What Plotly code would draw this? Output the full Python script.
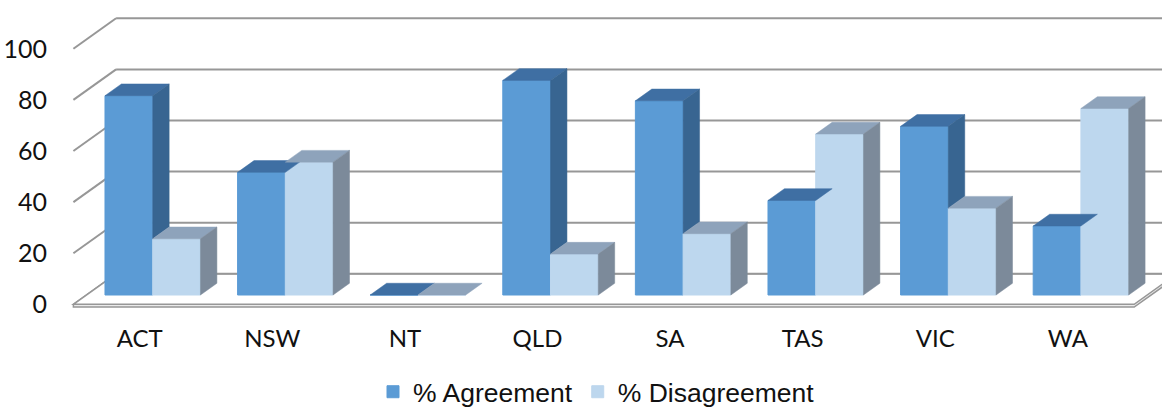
import plotly.graph_objects as go

categories = ["ACT", "NSW", "NT", "QLD", "SA", "TAS", "VIC", "WA"]
agreement = [78, 48, 0, 84, 76, 37, 66, 27]
disagreement = [22, 52, 0, 16, 24, 63, 34, 73]
y_ticks = [0, 20, 40, 60, 80, 100]

# pseudo-3D projection (oblique), in axis units
KX = 0.322     # x shift (category units) for full floor depth
KY = 11.94     # y shift (value units) for full floor depth
D1, D2 = 0.305, 0.69   # bar front / back depth fractions
BAR_W = 0.36

C_AG = "#5B9BD5"; C_AG_TOP = "#3F6FA3"; C_AG_SIDE = "#386591"
C_DI = "#BDD7EE"; C_DI_TOP = "#8EA3BB"; C_DI_SIDE = "#7C8A9A"
GRID = "#979797"

n = len(categories)
b = D1 * KY
dx = (D2 - D1) * KX
dy = (D2 - D1) * KY


def faces(x0s, vals, lows):
    tx, ty, sx, sy = [], [], [], []
    for x0, v, lo in zip(x0s, vals, lows):
        x1 = x0 + BAR_W
        tx += [x0, x1, x1 + dx, x0 + dx, x0, None]
        ty += [b + v, b + v, b + v + dy, b + v + dy, b + v, None]
        if v > lo:
            sx += [x1, x1, x1 + dx, x1 + dx, x1, None]
            sy += [b + lo, b + v, b + v + dy, b + lo + dy, b + lo, None]
    return tx, ty, sx, sy


ag_x0 = [i - BAR_W + D1 * KX for i in range(n)]
di_x0 = [i + D1 * KX for i in range(n)]

fig = go.Figure()
fig.add_trace(go.Bar(x=[x + BAR_W / 2 for x in ag_x0], y=agreement, base=b, width=BAR_W,
                     marker=dict(color=C_AG, line=dict(color=C_AG, width=1)),
                     name="% Agreement", hoverinfo="skip"))
fig.add_trace(go.Bar(x=[x + BAR_W / 2 for x in di_x0], y=disagreement, base=b, width=BAR_W,
                     marker=dict(color=C_DI, line=dict(color=C_DI, width=1)),
                     name="% Disagreement", hoverinfo="skip"))

for x0s, vals, lows, ctop, cside in [
    (ag_x0, agreement, disagreement, C_AG_TOP, C_AG_SIDE),
    (di_x0, disagreement, [0] * n, C_DI_TOP, C_DI_SIDE),
]:
    tx, ty, sx, sy = faces(x0s, vals, lows)
    fig.add_trace(go.Scatter(x=tx, y=ty, fill="toself", fillcolor=ctop, mode="lines",
                             line=dict(color=ctop, width=0.5), showlegend=False, hoverinfo="skip"))
    if sx:
        fig.add_trace(go.Scatter(x=sx, y=sy, fill="toself", fillcolor=cside, mode="lines",
                                 line=dict(color=cside, width=0.5), showlegend=False, hoverinfo="skip"))

shapes = []
xl, xr = -0.5, n - 0.5
# floor slab
th = 1.1
shapes.append(dict(type="path", layer="below", xref="x", yref="y",
                   path=f"M{xl},{-th} L{xr},{-th} L{xr + KX},{KY - th} L{xr + KX},{KY} L{xl + KX},{KY} L{xl},0 Z",
                   fillcolor="#EBEBEB", line=dict(color=GRID, width=1.5)))
shapes.append(dict(type="path", layer="below", xref="x", yref="y",
                   path=f"M{xl},0 L{xr},0 L{xr + KX},{KY} L{xl + KX},{KY} Z",
                   fillcolor="white", line=dict(color=GRID, width=1.5)))
for v in y_ticks:
    if v > 0:
        shapes.append(dict(type="line", layer="below", xref="x", yref="y",
                           x0=xl, y0=v, x1=xl + KX, y1=v + KY, line=dict(color=GRID, width=2)))
    shapes.append(dict(type="line", layer="below", xref="x", yref="y",
                       x0=xl + KX, y0=v + KY, x1=xr + KX + 1, y1=v + KY, line=dict(color=GRID, width=2)))

W, H = 1162, 409
L, B = 56, 93
PXC, PXV = 132.6, 2.555
X0PIX, Y0PIX = 139.7, 304.3

fig.update_layout(
    width=W, height=H, autosize=False,
    margin=dict(l=L, r=0, t=0, b=B, autoexpand=False),
    plot_bgcolor="white", paper_bgcolor="white",
    barmode="overlay", shapes=shapes,
    xaxis=dict(range=[(L - X0PIX) / PXC, (W - X0PIX) / PXC], tickvals=list(range(n)),
               ticktext=categories, showgrid=False, zeroline=False, showline=False,
               ticks="outside", ticklen=1, tickcolor="rgba(0,0,0,0)",
               tickfont=dict(family="Lato", size=24, color="#111")),
    yaxis=dict(range=[(Y0PIX - (H - B)) / PXV, Y0PIX / PXV], tickvals=y_ticks,
               showgrid=False, zeroline=False, showline=False,
               ticks="outside", ticklen=3, tickcolor="rgba(0,0,0,0)",
               tickfont=dict(family="Lato", size=25, color="#111")),
    legend=dict(orientation="h", x=(373 - L) / (W - L), xanchor="left",
                y=-(392 - (H - B)) / (H - B), yanchor="middle",
                font=dict(family="Liberation Sans, Arial", size=26.5, color="#111"),
                traceorder="normal"),
    showlegend=True,
)

fig.write_html("out.html")
